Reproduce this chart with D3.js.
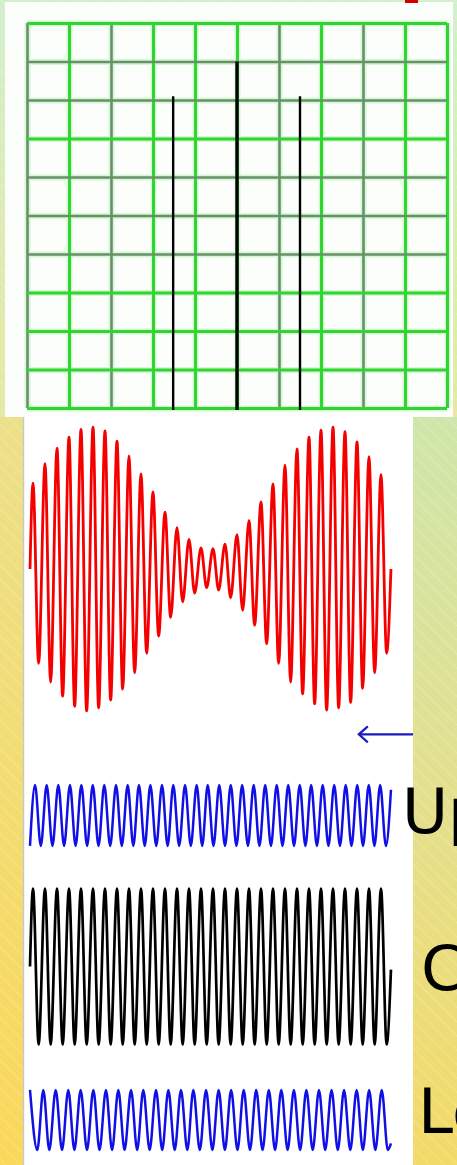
<!DOCTYPE html>
<html lang="en">
<head>
<meta charset="utf-8">
<title>AM signal, carrier and sidebands</title>
<script src="https://d3js.org/d3.v7.min.js"></script>
<style>
  * { margin:0; padding:0; box-sizing:border-box; }
  body { width:457px; height:1165px; overflow:hidden; background:#e4e096; font-family:'DejaVu Sans', Verdana, sans-serif; }
  svg { display:block; }
  .halo line { stroke:#d6f6d6; stroke-width:6; }
  .grid line { stroke:#30d630; stroke-width:3; }
  .grid line.dim { stroke:#679267; stroke-width:2.6; }
  .wave { fill:none; stroke-linejoin:round; }
  .label { font-size:63px; fill:#000; }
</style>
</head>
<body>
<svg id="chart" width="457" height="1165"></svg>
<script>
// ─── Spectrum (top picture) ───
const specNames  = ['Lower sideband', 'Carrier', 'Upper sideband'];
const specFreq   = [-1.52, 0, 1.5];
const specHeight = [8.1, 9, 8.1];
const specXTicks = [-5, -4, -3, -2, -1, 0, 1, 2, 3, 4, 5];
const specYTicks = [0, 1, 2, 3, 4, 5, 6, 7, 8, 9, 10];
const dimXTicks  = [-5, -3, 1, 3];       // grid lines that read grey-green
const dimYTicks  = [4, 5, 6, 8, 9];

// ─── Time traces, t in carrier cycles ───
const spanT = [0, 30.08];

const carrierPeakT = [0.25, 1.25, 2.25, 3.25, 4.25, 5.25, 6.25, 7.25, 8.25, 9.25,
  10.25, 11.25, 12.25, 13.25, 14.25, 15.25, 16.25, 17.25, 18.25, 19.25,
  20.25, 21.25, 22.25, 23.25, 24.25, 25.25, 26.25, 27.25, 28.25, 29.25];
const carrierTroughT = [0.72, 1.72, 2.72, 3.72, 4.72, 5.72, 6.72, 7.72, 8.72, 9.72,
  10.72, 11.72, 12.72, 13.72, 14.72, 15.72, 16.72, 17.72, 18.72, 19.72,
  20.72, 21.72, 22.72, 23.72, 24.72, 25.72, 26.72, 27.72, 28.72, 29.72];
const carrierLevel = [1.0, -1.0];
const carrierEnds  = [0, -0.04];

// AM wave shares the carrier's crest times
const amPeakV = [1.10, 1.35, 1.55, 1.69, 1.79, 1.82, 1.77, 1.64, 1.45, 1.22,
  0.99, 0.73, 0.53, 0.38, 0.27, 0.26, 0.32, 0.44, 0.62, 0.86,
  1.09, 1.33, 1.54, 1.69, 1.78, 1.82, 1.76, 1.63, 1.44, 1.21];
const amTroughV = [-1.21, -1.45, -1.63, -1.76, -1.82, -1.78, -1.68, -1.54, -1.33, -1.08,
  -0.86, -0.62, -0.42, -0.31, -0.24, -0.27, -0.37, -0.53, -0.72, -0.96,
  -1.21, -1.45, -1.60, -1.73, -1.81, -1.78, -1.71, -1.53, -1.33, -1.08];
const amEnds = [0, 0];

const usbPeakT = [0.42, 1.39, 2.36, 3.33, 4.28, 5.23, 6.19, 7.17, 8.14, 9.08,
  10.03, 11.00, 11.94, 12.92, 13.89, 14.81, 15.77, 16.73, 17.68, 18.64,
  19.60, 20.56, 21.52, 22.48, 23.43, 24.39, 25.35, 26.31, 27.27, 28.23, 29.18];
const usbTroughT = [0.90, 1.87, 2.84, 3.80, 4.76, 5.71, 6.68, 7.65, 8.61, 9.56,
  10.52, 11.47, 12.43, 13.40, 14.35, 15.29, 16.25, 17.20, 18.16, 19.12,
  20.08, 21.04, 22.00, 22.95, 23.91, 24.87, 25.83, 26.79, 27.75, 28.70, 29.66];
const usbLevel = [0.39, -0.39];
const usbEnds  = [-0.39, 0.33];

const lsbPeakT = [1.11, 2.14, 3.19, 4.22, 5.28, 6.33, 7.36, 8.42, 9.44, 10.50,
  11.53, 12.58, 13.61, 14.67, 15.72, 16.76, 17.81, 18.85, 19.90, 20.94,
  21.99, 23.03, 24.08, 25.13, 26.17, 27.22, 28.26, 29.31];
const lsbTroughT = [0.61, 1.61, 2.67, 3.70, 4.75, 5.79, 6.84, 7.88, 8.93, 9.97,
  11.02, 12.06, 13.11, 14.15, 15.20, 16.24, 17.29, 18.33, 19.38, 20.42,
  21.47, 22.51, 23.56, 24.60, 25.65, 26.69, 27.74, 28.78, 29.82];
const lsbLevel = [0.385, -0.385];
const lsbEnds  = [0.385, -0.3];

const W = 457, H = 1165;
const svg = d3.select('#chart');
const defs = svg.append('defs');

function vGrad(id, stops) {
  const g = defs.append('linearGradient').attr('id', id)
    .attr('x1', 0).attr('y1', 0).attr('x2', 0).attr('y2', 1);
  stops.forEach(([o, c]) => g.append('stop').attr('offset', o).attr('stop-color', c));
}
vGrad('bgTop', [[0, '#d2efcc'], [1, '#e6e8a2']]);
vGrad('bgLeft', [[0, '#ece08a'], [0.5, '#f3dc72'], [1, '#fad85a']]);
vGrad('bgRight', [[0, '#cfe6aa'], [0.5, '#e3e08e'], [1, '#f3da68']]);

const stripes = defs.append('pattern').attr('id', 'stripes')
  .attr('width', 10).attr('height', 10)
  .attr('patternUnits', 'userSpaceOnUse')
  .attr('patternTransform', 'rotate(-45)');
stripes.append('line').attr('x1', 0).attr('y1', 0).attr('x2', 0).attr('y2', 10)
  .attr('stroke', '#fff').attr('stroke-width', 1.2).attr('stroke-opacity', 0.35);

// background
svg.append('rect').attr('width', W).attr('height', 417).attr('fill', 'url(#bgTop)');
svg.append('rect').attr('y', 417).attr('width', 24).attr('height', H - 417).attr('fill', 'url(#bgLeft)');
svg.append('rect').attr('x', 412).attr('y', 417).attr('width', W - 412).attr('height', H - 417).attr('fill', 'url(#bgRight)');
svg.append('rect').attr('width', W).attr('height', H).attr('fill', 'url(#stripes)');

// ─── Spectrum picture ───
svg.append('rect').attr('x', 5).attr('y', 2).attr('width', 448).attr('height', 415).attr('fill', '#fcfefc');
svg.append('rect').attr('x', 405).attr('y', 0).attr('width', 13).attr('height', 3).attr('fill', '#d40000');

const spec = { left: 27, right: 447, top: 23, bottom: 408 };
const fx = d3.scaleLinear().domain([-5, 5]).range([spec.left, spec.right]);
const fy = d3.scaleLinear().domain([0, 10]).range([spec.bottom, spec.top]);

function gridAxes(cls) {
  const g = svg.append('g').attr('class', cls);
  g.append('g').attr('transform', `translate(0,${spec.bottom})`)
    .call(d3.axisBottom(fx).tickValues(specXTicks).tickSize(-(spec.bottom - spec.top)).tickFormat(''))
    .call(a => a.select('.domain').remove())
    .selectAll('.tick line').classed('dim', d => dimXTicks.includes(d));
  g.append('g').attr('transform', `translate(${spec.left},0)`)
    .call(d3.axisLeft(fy).tickValues(specYTicks).tickSize(-(spec.right - spec.left)).tickFormat(''))
    .call(a => a.select('.domain').remove())
    .selectAll('.tick line').classed('dim', d => dimYTicks.includes(d));
  g.selectAll('.tick text').remove();
}
gridAxes('halo');
gridAxes('grid');

svg.append('g').selectAll('line')
  .data(specNames)
  .join('line')
  .attr('x1', (d, i) => fx(specFreq[i])).attr('x2', (d, i) => fx(specFreq[i]))
  .attr('y1', fy(0) + 2).attr('y2', (d, i) => fy(specHeight[i]))
  .attr('stroke', '#000')
  .attr('stroke-width', (d, i) => specFreq[i] === 0 ? 3.4 : 2.4);

// ─── Time traces ───
svg.append('rect').attr('x', 23).attr('y', 417).attr('width', 390).attr('height', H - 417).attr('fill', '#fff');
svg.append('line').attr('x1', 23.5).attr('x2', 23.5).attr('y1', 417).attr('y2', H)
  .attr('stroke', '#c9c9c4').attr('stroke-width', 1.5);

const tx = d3.scaleLinear().domain([0, 30]).range([30, 390]);
const unit = 78;
const panelY = d3.scaleOrdinal()
  .domain(['am', 'usb', 'carrier', 'lsb'])
  .range([569, 815.5, 966.5, 1120]);
const ampScale = key => d3.scaleLinear().domain([-1, 1])
  .range([panelY(key) + unit, panelY(key) - unit]);

function turningPoints(peakT, peakV, troughT, troughV, ends) {
  const at = (v, i) => typeof v === 'number' ? v : v[i];
  const pts = [{ t: spanT[0], v: ends[0] }];
  peakT.forEach((t, i) => pts.push({ t, v: at(peakV, i) }));
  troughT.forEach((t, i) => pts.push({ t, v: at(troughV, i) }));
  pts.push({ t: spanT[1], v: ends[1] });
  return pts.sort((a, b) => a.t - b.t);
}

const traces = [
  { key: 'am', color: '#f50000', width: 2.8,
    pts: turningPoints(carrierPeakT, amPeakV, carrierTroughT, amTroughV, amEnds) },
  { key: 'usb', color: '#1010e6', width: 2.5,
    pts: turningPoints(usbPeakT, usbLevel[0], usbTroughT, usbLevel[1], usbEnds) },
  { key: 'carrier', color: '#000', width: 2.7,
    pts: turningPoints(carrierPeakT, carrierLevel[0], carrierTroughT, carrierLevel[1], carrierEnds) },
  { key: 'lsb', color: '#1010e6', width: 2.5,
    pts: turningPoints(lsbPeakT, lsbLevel[0], lsbTroughT, lsbLevel[1], lsbEnds) }
];

traces.forEach(tr => {
  const y = ampScale(tr.key);
  const line = d3.line().x(d => tx(d.t)).y(d => y(d.v)).curve(d3.curveMonotoneX);
  svg.append('path').attr('class', 'wave')
    .attr('d', line(tr.pts))
    .attr('stroke', tr.color).attr('stroke-width', tr.width);
});

// arrow pointing back at the AM wave
const arrowY = ampScale('am')(-2.12);
const arrow = svg.append('g').attr('stroke', '#1a1ac0').attr('stroke-width', 2.2).attr('fill', 'none');
arrow.append('line').attr('x1', tx(27.4)).attr('x2', 413).attr('y1', arrowY).attr('y2', arrowY);
arrow.append('path').attr('d', `M${tx(27.4) + 9},${arrowY - 8} L${tx(27.4)},${arrowY} L${tx(27.4) + 9},${arrowY + 8}`);

// labels, cut off by the right edge as on the slide
const labels = [
  { text: 'Upper sideband', key: 'usb', x: 402, dy: 17.5 },
  { text: 'Carrier', key: 'carrier', x: 421, dy: 23.5 },
  { text: 'Lower sideband', key: 'lsb', x: 418, dy: 13 }
];
svg.append('g').selectAll('text')
  .data(labels)
  .join('text')
  .attr('class', 'label')
  .attr('x', d => d.x)
  .attr('y', d => panelY(d.key) + d.dy)
  .text(d => d.text);
</script>
</body>
</html>
